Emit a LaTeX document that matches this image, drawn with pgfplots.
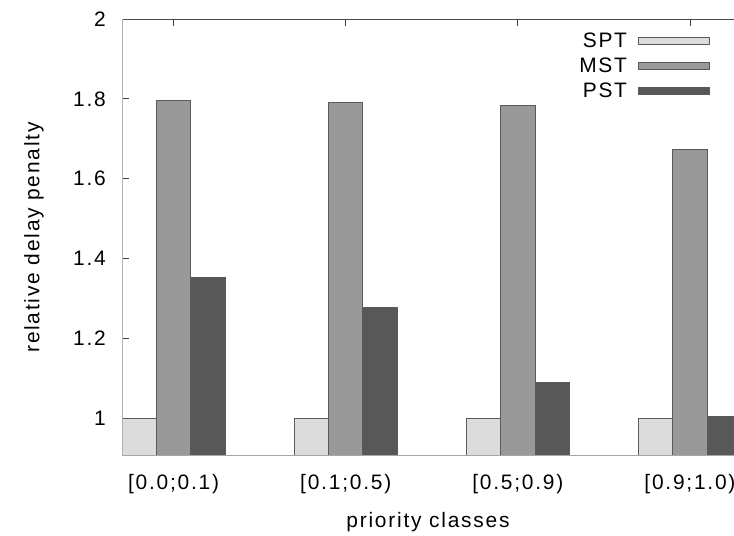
\documentclass[border=0pt]{standalone}
\usepackage{fontspec}
\setmainfont{Liberation Sans}[LetterSpace=8.5]
\usepackage{pgfplots}
\pgfplotsset{compat=1.18}

\definecolor{sptfill}{RGB}{220,220,220}
\definecolor{mstfill}{RGB}{153,153,153}
\definecolor{pstfill}{RGB}{88,88,88}
\definecolor{barline}{RGB}{90,90,90}

\begin{document}
\begin{tikzpicture}
\useasboundingbox (0,0) rectangle (734bp,536bp);
\begin{axis}[
    at={(122bp,80bp)}, anchor=south west,
    scale only axis,
    width=612bp, height=437bp,
    font=\fontsize{21}{24}\selectfont,
    ybar=0pt,
    bar width=0.2,
    xmin=-0.3, xmax=3.256,
    ymin=0.905, ymax=2,
    axis line style={draw=none},
    xtick={0,1,2,3},
    xticklabels={{[0.0;0.1)},{[0.1;0.5)},{[0.5;0.9)},{[0.9;1.0)}},
    xtick pos=top, xticklabel pos=bottom,
    ytick={1,1.2,1.4,1.6,1.8,2},
    yticklabels={1,1.2,1.4,1.6,1.8,2},
    ytick pos=left,
    tick align=inside,
    major tick length=7bp,
    tick style={black!75, line width=0.8bp},
    yticklabel style={inner sep=0pt, anchor=east, xshift=-16bp},
    xticklabel style={inner sep=0pt, anchor=north, yshift=-18bp},
    xlabel={priority classes},
    ylabel={relative delay penalty},
    xlabel style={at={(axis description cs:0.5,-0.151)}, anchor=center, inner sep=0pt},
    ylabel style={at={(axis description cs:-0.144,0.5)}, anchor=center, inner sep=0pt},
    every axis plot/.append style={draw=barline, line width=1bp,
        legend image code/.code={\draw[##1] (0bp,-3.5bp) rectangle (71bp,3.5bp);}},
    legend plot pos=right,
    legend cell align=right,
    legend style={draw=none, fill=none, at={(rel axis cs:0.966,0.973)}, anchor=north east,
        row sep=9bp, nodes={inner sep=0pt, inner xsep=11bp}},
]
\addplot[fill=sptfill] coordinates {(0,1) (1,1) (2,1) (3,1)};
\addplot[fill=mstfill] coordinates {(0,1.797) (1,1.792) (2,1.782) (3,1.674)};
\addplot[fill=pstfill] coordinates {(0,1.353) (1,1.276) (2,1.088) (3,1.005)};
\legend{SPT,MST,PST}
\draw[black!70, line width=0.8bp] (rel axis cs:0,1) -- (rel axis cs:1,1);
\draw[black!30, line width=2.5bp] (rel axis cs:0,0) -- (rel axis cs:0,1);
\draw[black!35, line width=2.5bp] (rel axis cs:0,0) -- (rel axis cs:1,0);
\end{axis}
\end{tikzpicture}
\end{document}
